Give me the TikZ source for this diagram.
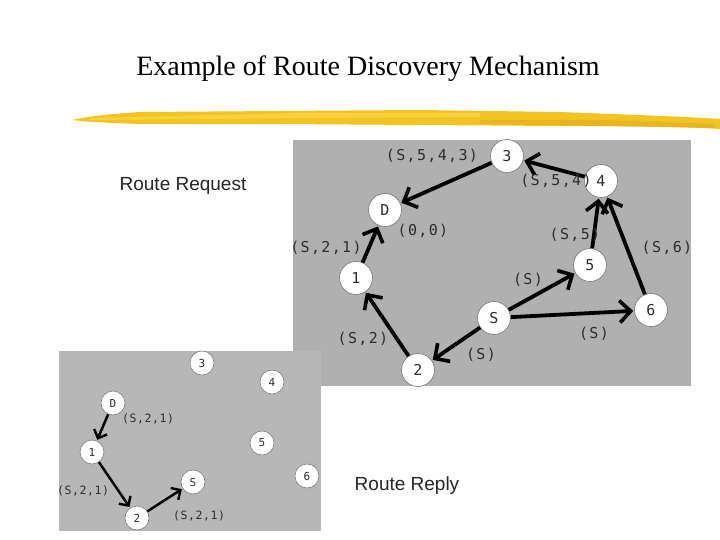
\documentclass[tikz,border=0pt]{standalone}
\usepackage{fontspec}
\setmainfont{Liberation Serif}
\newfontfamily\arialf{Liberation Sans}
\newfontfamily\monof[LetterSpace=9]{DejaVu Sans Mono}
\newfontfamily\monosf[LetterSpace=5]{DejaVu Sans Mono}
\usetikzlibrary{arrows.meta}
\definecolor{panelA}{RGB}{176,176,176}
\definecolor{panelB}{RGB}{183,183,183}
\definecolor{brushA}{RGB}{242,196,34}
\definecolor{brushB}{RGB}{250,214,70}
\definecolor{brushC}{RGB}{228,176,30}
\definecolor{lbl}{RGB}{45,45,45}
\tikzset{
  bignode/.style={circle,draw=black!50,line width=0.7pt,fill=white,minimum size=33pt,inner sep=0pt,font=\monof\fontsize{15}{15}\selectfont,text=lbl},
  smallnode/.style={circle,draw=black!50,line width=0.6pt,fill=white,minimum size=24pt,inner sep=0pt,font=\monosf\fontsize{11}{11}\selectfont,text=lbl},
  biglbl/.style={font=\monof\fontsize{15}{15}\selectfont,text=lbl,inner sep=0pt},
  smalllbl/.style={font=\monosf\fontsize{11.5}{11.5}\selectfont,text=lbl,inner sep=0pt},
  bigarrow/.style={line width=3.8pt,-{Straight Barb[length=11pt,width=22pt,line width=3.6pt]},shorten >=1pt},
  smallarrow/.style={line width=2.5pt,-{Straight Barb[length=7pt,width=14pt,line width=2.4pt]},shorten >=1pt},
}
\begin{document}
\begin{tikzpicture}[x=1pt,y=-1pt]
\useasboundingbox (0,0) rectangle (720,540);
\fill[white] (0,0) rectangle (720,540);
% title
\node[font=\fontsize{28}{28}\selectfont,inner sep=0pt] (title) at (368,69) {Example of Route Discovery Mechanism};
% brush stroke
\fill[brushA] (72,120) .. controls (90,116) and (110,114) .. (140,112)
  -- (280,111) -- (420,110) -- (560,112) .. controls (640,115) and (690,117) .. (720,119)
  -- (720,129) .. controls (690,127) and (640,126) .. (560,126)
  -- (420,125) -- (280,124) -- (140,124) .. controls (110,123) and (88,122) .. (72,120) -- cycle;
\fill[brushB,opacity=0.8] (90,118) -- (300,113) -- (480,113) -- (480,117) -- (300,118) -- (90,120) -- cycle;
\fill[brushC,opacity=0.7] (480,120) -- (600,120) -- (715,124) -- (715,128) -- (600,126) -- (480,124) -- cycle;
% panels
\fill[panelA] (293,140) rectangle (691,386);
\fill[panelB] (59,351) rectangle (321,531);
% top panel nodes
\node[bignode] (n3) at (507,156) {3};
\node[bignode] (n4) at (601,181) {4};
\node[bignode] (nD) at (385,210) {D};
\node[bignode] (n1) at (356,278) {1};
\node[bignode] (n5) at (590,265) {5};
\node[bignode] (nS) at (494,318) {S};
\node[bignode] (n6) at (651,310) {6};
\node[bignode] (n2) at (418,370) {2};
% top arrows
\draw[bigarrow] (n3) -- (nD);
\draw[bigarrow] (n4) -- (n3);
\draw[bigarrow] (n1) -- (nD);
\draw[bigarrow] (n2) -- (n1);
\draw[bigarrow] (nS) -- (n2);
\draw[bigarrow] (nS) -- (n5);
\draw[bigarrow] (nS) -- (n6);
\draw[bigarrow] (n5) -- (n4);
\draw[bigarrow] (n6) -- (n4);
% top labels
\node[biglbl] (l1) at (432,156) {(S,5,4,3)};
\node[biglbl] (l2) at (556,181) {(S,5,4)};
\node[biglbl] (l3) at (423,231) {(0,0)};
\node[biglbl] (l4) at (326,248) {(S,2,1)};
\node[biglbl] (l5) at (575,235) {(S,5)};
\node[biglbl] (l6) at (667,248) {(S,6)};
\node[biglbl] (l7) at (528,280) {(S)};
\node[biglbl] (l8) at (594,334) {(S)};
\node[biglbl] (l9) at (363,339) {(S,2)};
\node[biglbl] (l10) at (481,355) {(S)};
% bottom panel nodes
\node[smallnode] (m3) at (202,363) {3};
\node[smallnode] (m4) at (272,382) {4};
\node[smallnode] (mD) at (113,403) {D};
\node[smallnode] (m1) at (92,452) {1};
\node[smallnode] (m5) at (262,443) {5};
\node[smallnode] (m6) at (307,476) {6};
\node[smallnode] (mS) at (193,482) {S};
\node[smallnode] (m2) at (137,518) {2};
\draw[smallarrow] (mD) -- (m1);
\draw[smallarrow] (m1) -- (m2);
\draw[smallarrow] (m2) -- (mS);
\node[smalllbl] (k1) at (148,419) {(S,2,1)};
\node[smalllbl] (k2) at (83,491) {(S,2,1)};
\node[smalllbl] (k3) at (199,516) {(S,2,1)};
% captions
\node[font=\arialf\fontsize{19}{19}\selectfont,inner sep=0pt,text=black!85] (req) at (183,186) {Route Request};
\node[font=\arialf\fontsize{19}{19}\selectfont,inner sep=0pt,text=black!85] (rep) at (407,486) {Route Reply};
\end{tikzpicture}
\end{document}
